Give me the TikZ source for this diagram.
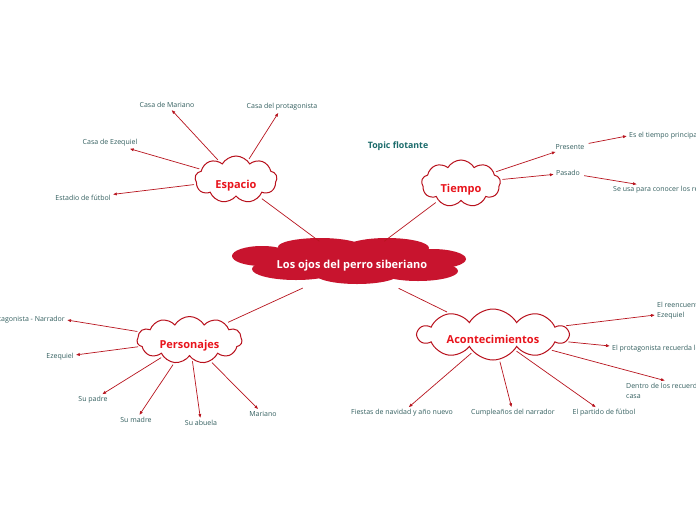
\documentclass[tikz,border=0pt]{standalone}
\usepackage{fontspec}
\setmainfont{Open Sans}
\usetikzlibrary{shapes.symbols,shapes.geometric,arrows.meta}
\definecolor{txt}{HTML}{335F5F}
\definecolor{topic}{HTML}{1B6B6B}
\definecolor{lbl}{HTML}{E8141C}
\definecolor{cl}{HTML}{B8101C}
\definecolor{ln}{HTML}{B8141E}
\definecolor{cfill}{HTML}{C8142E}
\tikzset{
 topicc/.style={cloud, cloud puffs=9, cloud puff arc=120, cloud ignores aspect, draw=cl, line width=1pt, fill=white, inner sep=0pt},
 toplbl/.style={text=lbl, font=\fontsize{11}{13}\selectfont\bfseries, yshift=-6pt},
 leaf/.style={text=txt, font=\fontsize{7}{10}\selectfont, inner sep=2pt},
 arr/.style={draw=ln, line width=0.7pt, -{Latex[length=4pt,width=3.2pt]}, shorten <=2pt},
 link/.style={draw=ln, line width=0.7pt, shorten <=3pt, shorten >=3pt},
}
\begin{document}
\begin{tikzpicture}[x=1pt,y=-1pt]
\useasboundingbox (0,0) rectangle (696,520);
\fill[white] (0,0) rectangle (696,520);
\clip (0,0) rectangle (696,520);
% central cloud
\begin{scope}[fill=cfill]
\fill (262,256) ellipse [x radius=30, y radius=10];
\fill (320,247) ellipse [x radius=42, y radius=9];
\fill (387,248) ellipse [x radius=42, y radius=10];
\fill (432,259) ellipse [x radius=34, y radius=10];
\fill (296,269) ellipse [x radius=44, y radius=11];
\fill (357,274) ellipse [x radius=42, y radius=10];
\fill (418,271) ellipse [x radius=40, y radius=10];
\fill (349,262) ellipse [x radius=95, y radius=16];
\end{scope}
\node[ellipse, minimum width=234pt, minimum height=46pt, inner sep=0pt, text=white, font=\fontsize{11}{13}\selectfont\bfseries] (root) at (352,265.5) {Los ojos del perro siberiano};
% main topics
\node[topicc, minimum width=82pt, minimum height=47pt, label={[toplbl]center:Espacio}] (esp) at (236,179.5) {};
\node[topicc, minimum width=79pt, minimum height=47pt, label={[toplbl]center:Tiempo}] (tie) at (461,183.5) {};
\node[topicc, minimum width=105pt, minimum height=47pt, cloud puffs=11, label={[toplbl]center:Personajes}] (per) at (189.5,340) {};
\node[topicc, minimum width=150pt, minimum height=51pt, cloud puffs=10, label={[toplbl, yshift=1.5pt]center:Acontecimientos}] (aco) at (493,334.5) {};
% floating topic
\node[text=topic, font=\fontsize{8.8}{10}\selectfont\bfseries] (tf) at (398,146) {Topic flotante};
% leaves
\node[leaf] (cm) at (167,105) {Casa de Mariano};
\node[leaf] (cp) at (282,107) {Casa del protagonista};
\node[leaf] (ce) at (110,143) {Casa de Ezequiel};
\node[leaf] (ef) at (83,198) {Estadio de fútbol};
\node[leaf] (pre) at (570,147) {Presente};
\node[leaf] (pas) at (568,173) {Pasado};
\node[leaf, anchor=west] (etp) at (627,136) {Es el tiempo principal};
\node[leaf, anchor=west] (sus) at (611,190) {Se usa para conocer los recuerdos};
\node[leaf, anchor=east] (pn) at (67,320) {Protagonista - Narrador};
\node[leaf] (ez) at (60,357) {Ezequiel};
\node[leaf] (sp) at (93,400) {Su padre};
\node[leaf] (sm) at (136,420) {Su madre};
\node[leaf] (sa) at (201,423) {Su abuela};
\node[leaf] (ma) at (263,414) {Mariano};
\node[leaf, anchor=west, align=left] (ree) at (655,311) {El reencuentro con\\Ezequiel};
\node[leaf, anchor=west] (epr) at (610,349) {El protagonista recuerda lo que pasó};
\node[leaf, anchor=west, align=left] (den) at (624,390.5) {Dentro de los recuerdos de su\\casa};
\node[leaf] (fn) at (402,413) {Fiestas de navidad y año nuevo};
\node[leaf] (cu) at (513,413) {Cumpleaños del narrador};
\node[leaf] (pf) at (604,413) {El partido de fútbol};
% links root
\draw[link] (root) -- (esp);
\draw[link] (root) -- (tie);
\draw[link] (root) -- (per);
\draw[link] (root) -- (aco);
% arrows
\draw[arr] (esp) -- (cm);
\draw[arr] (esp) -- (cp);
\draw[arr] (esp) -- (ce);
\draw[arr] (esp) -- (ef);
\draw[arr] (tie) -- (pre);
\draw[arr] (tie) -- (pas);
\draw[arr] (pre) -- (etp.west);
\draw[arr] (pas) -- ([xshift=26pt]sus.north west);
\draw[arr] (per) -- (pn.east);
\draw[arr] (per) -- (ez);
\draw[arr] (per) -- (sp);
\draw[arr] (per) -- (sm);
\draw[arr] (per) -- (sa);
\draw[arr] (per) -- (ma);
\draw[arr] (aco) -- ([yshift=-4pt]ree.west);
\draw[arr] (aco) -- ([yshift=3pt]epr.west);
\draw[arr] (aco) -- ([xshift=41pt]den.north west);
\draw[arr] (aco) -- (fn);
\draw[arr] (aco) -- (cu);
\draw[arr] (aco) -- (pf);
\end{tikzpicture}
\end{document}
